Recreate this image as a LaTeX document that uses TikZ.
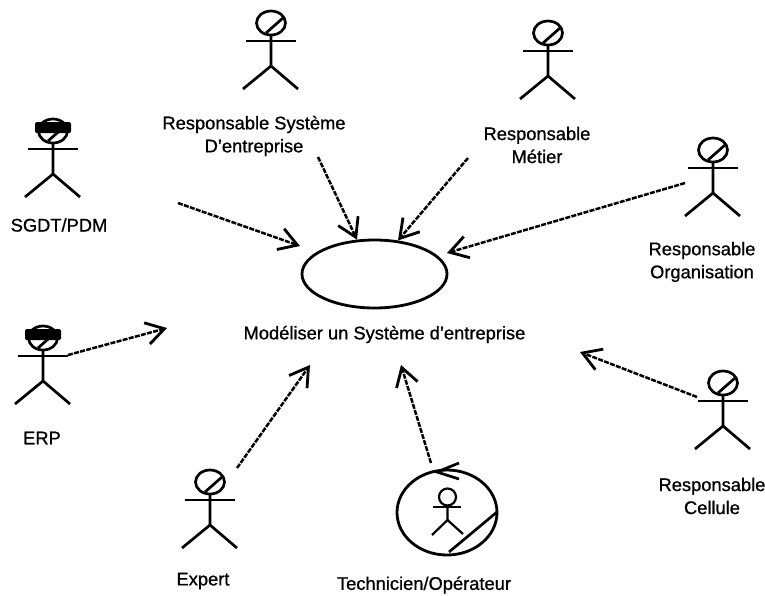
\documentclass[tikz,border=0pt]{standalone}
\usepackage{fontspec}
\setmainfont[FakeBold=0.9]{Liberation Sans}
\usetikzlibrary{shapes.geometric, arrows.meta}
\tikzstyle{usecase} = [ellipse, inner sep=0pt, minimum width=145pt, minimum height=68pt, draw=black, line width=2.8pt]
\tikzstyle{label} = [align=center, inner sep=0pt, font=\fontsize{18.3}{23}\selectfont]
\tikzstyle{limb} = [line width=2.7pt]
\tikzstyle{thinlimb} = [line width=2.2pt]
\tikzstyle{arrow} = [line width=2.5pt, dash pattern=on 5pt off 1.3pt, -{Straight Barb[length=18pt,width=22pt,line width=2.8pt]}]
% stick figure, #1 #2 = centre of the head
\newcommand{\actor}[2]{
\begin{scope}[shift={(#1,#2)}]
\draw[limb] (0,0) ellipse (14.5 and 12);
\draw[limb] (-5,10) -- (12,-5);
\draw[limb] (-25,18) -- (25,18);
\draw[limb] (0,12) -- (0,43) -- (-28,66);
\draw[limb] (0,43) -- (27,66);
\end{scope}
}
\newcommand{\blackbar}[2]{\fill[rounded corners=1.5pt] (#1-18,#2-9) rectangle (#1+18,#2+2);}

\begin{document}
\begin{tikzpicture}[x=1pt, y=-1pt]
\useasboundingbox (0,0) rectangle (765,595);
\node (uc) [usecase] at (374.5,274) {};
\node (uc_label) [label] at (384.5,334.5) {Modéliser un Système d'entreprise};

% actors
\actor{53}{131} \blackbar{53}{131}
\actor{43}{338} \blackbar{43}{338}
\actor{271}{23}
\actor{548}{33}
\actor{713}{150}
\actor{723}{383}
\actor{210}{482}

\node (sgdt) [label] at (59,225) {SGDT/PDM};
\node (erp) [label] at (42,438) {ERP};
\node (syst) [label] at (254,136) {Responsable Système\\D'entreprise};
\node (metier) [label] at (537,145) {Responsable\\Métier};
\node (orga) [label] at (702,262) {Responsable\\Organisation};
\node (cell) [label] at (712,496) {Responsable\\Cellule};
\node (expert) [label] at (203,581) {Expert};
\node (tech) [label] at (424,585) {Technicien/Opérateur};

% worker
\node (worker) [ellipse, inner sep=0pt, minimum width=100pt, minimum height=85pt, draw=black, line width=2.8pt] at (447,512.5) {};
\draw[thinlimb] (447.5,497) circle (8.5);
\draw[thinlimb] (433,507) -- (461,507);
\draw[thinlimb] (447.5,505) -- (447.5,520) -- (432,535);
\draw[thinlimb] (447.5,520) -- (463,534);
\draw[limb] (449,552) -- (497,512);
\draw[limb] (459,463) -- (437,472) -- (459,479);

% arrow ends
\coordinate (sgdt_a) at (178,203);
\coordinate (sgdt_b) at (300,246);
\coordinate (syst_a) at (318,157);
\coordinate (metier_a) at (468,158);
\coordinate (orga_a) at (685,183);
\coordinate (orga_b) at (447,253);
\coordinate (erp_a) at (68,355);
\coordinate (erp_b) at (167,328);
\coordinate (cell_a) at (697,397);
\coordinate (cell_b) at (580,352);
\coordinate (expert_a) at (237,468);
\coordinate (expert_b) at (310,365);
\coordinate (tech_a) at (431,463);
\coordinate (tech_b) at (401,365);

\draw[arrow] (sgdt_a) -- (sgdt_b);
\draw[arrow] (syst_a) -- (uc.117);
\draw[arrow] (metier_a) -- (uc.55);
\draw[arrow] (orga_a) -- (orga_b);
\draw[arrow] (erp_a) -- (erp_b);
\draw[arrow] (cell_a) -- (cell_b);
\draw[arrow] (expert_a) -- (expert_b);
\draw[arrow] (tech_a) -- (tech_b);
\end{tikzpicture}
\end{document}
